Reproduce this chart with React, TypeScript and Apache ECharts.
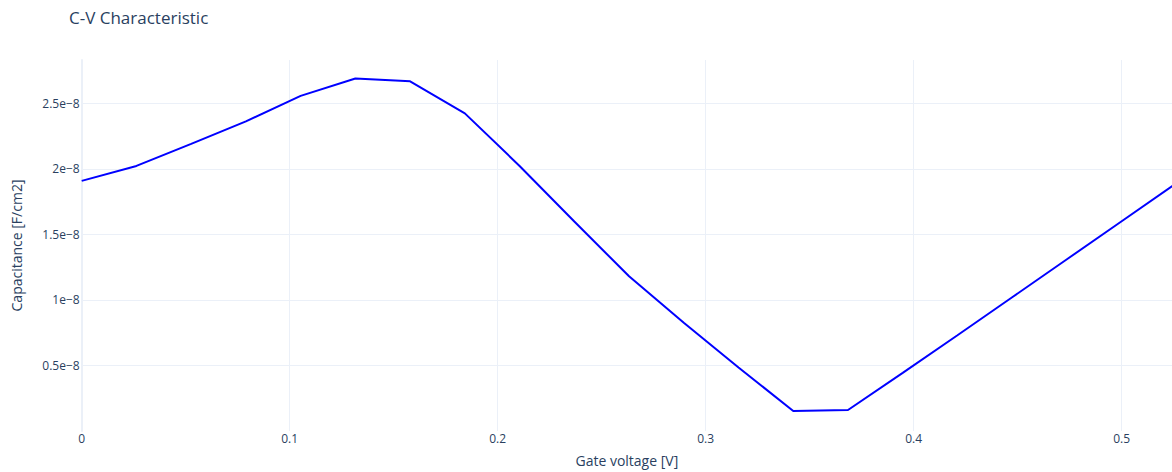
import React, { useEffect, useRef } from "react";
import * as echarts from "echarts";

const gateVoltage: number[] = [
  0, 0.026316, 0.052632, 0.078947, 0.105263, 0.131579, 0.157895, 0.184211, 0.210526, 0.236842,
  0.263158, 0.289474, 0.315789, 0.342105, 0.368421, 0.394737, 0.421053, 0.447368, 0.473684, 0.5,
  0.526316,
];
const capacitance: number[] = [
  1.908e-8, 2.022e-8, 2.19e-8, 2.362e-8, 2.556e-8, 2.689e-8, 2.667e-8, 2.423e-8, 2.022e-8, 1.598e-8,
  1.18e-8, 0.825e-8, 0.485e-8, 0.152e-8, 0.16e-8, 0.443e-8, 0.73e-8, 1.02e-8, 1.31e-8, 1.6e-8,
  1.89e-8,
];
const yTickLabels: Record<string, string> = {
  "0.5": "0.5e\u22128",
  "1": "1e\u22128",
  "1.5": "1.5e\u22128",
  "2": "2e\u22128",
  "2.5": "2.5e\u22128",
};

const FONT = "'Open Sans', 'Noto Sans', sans-serif";
const TEXT = "#2a3f5f";
const GRID = "#EBF0F8";

export default function App() {
  const ref = useRef<HTMLDivElement>(null);
  useEffect(() => {
    if (!ref.current) return;
    const chart = echarts.init(ref.current, undefined, { renderer: "svg" });
    chart.setOption({
      animation: false,
      backgroundColor: "#ffffff",
      title: {
        text: "C-V Characteristic",
        left: 69,
        top: 9,
        padding: 0,
        textStyle: { fontFamily: FONT, fontSize: 17, fontWeight: "normal", color: TEXT },
      },
      grid: { left: 81.7, right: 0, top: 60, bottom: 40.3, containLabel: false },
      xAxis: {
        type: "value",
        min: 0,
        max: 0.5242,
        interval: 0.1,
        name: "Gate voltage [V]",
        nameLocation: "middle",
        nameGap: 22,
        nameTextStyle: { fontFamily: FONT, fontSize: 14, color: TEXT },
        axisLine: { show: false },
        axisTick: { show: false },
        axisLabel: {
          fontFamily: FONT,
          fontSize: 12,
          color: TEXT,
          margin: 1,
          showMaxLabel: false,
          formatter: (v: number) => {
            const r = Math.round(v * 10) / 10;
            if (Math.abs(r - v) > 1e-6) return "";
            return r === 0 ? "0" : String(r);
          },
        },
        splitLine: { show: true, showMaxLine: false, lineStyle: { color: GRID, width: 1 } },
      },
      yAxis: {
        type: "value",
        min: 0,
        max: 2.83e-8,
        interval: 0.5e-8,
        name: "Capacitance [F/cm2]",
        nameLocation: "middle",
        nameGap: 58,
        nameTextStyle: { fontFamily: FONT, fontSize: 14, color: TEXT },
        axisLine: { show: true, lineStyle: { color: GRID, width: 2 } },
        axisTick: { show: false },
        axisLabel: {
          fontFamily: FONT,
          fontSize: 12,
          color: TEXT,
          margin: 2,
          showMaxLabel: false,
          formatter: (v: number) => {
            const key = String(Math.round((v / 1e-8) * 10) / 10);
            return yTickLabels[key] ?? "";
          },
        },
        splitLine: { show: true, showMinLine: false, showMaxLine: false, lineStyle: { color: GRID, width: 1 } },
      },
      series: [
        {
          type: "line",
          data: gateVoltage.map((x, i) => [x, capacitance[i]]),
          showSymbol: false,
          symbol: "none",
          clip: true,
          lineStyle: { color: "#0000ff", width: 2 },
        },
      ],
    });
    return () => chart.dispose();
  }, []);
  return (
    <div
      ref={ref}
      style={{ position: "fixed", left: 0, top: 0, width: 1172, height: 472 }}
    />
  );
}
